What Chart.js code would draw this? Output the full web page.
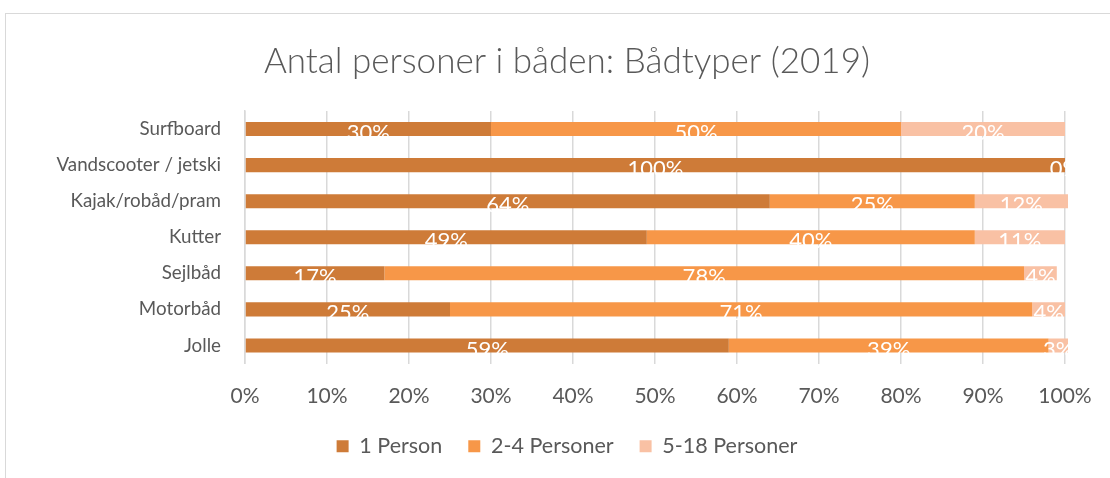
<!DOCTYPE html>
<html>
<head>
<meta charset="utf-8">
<script src="https://cdn.jsdelivr.net/npm/chart.js@4.4.0/dist/chart.umd.min.js"></script>
<style>
  body { margin: 0; background: #fff; }
  #wrap { position: relative; width: 1110px; height: 478px; overflow: hidden; }
  #ramme { position: absolute; left: 5px; top: 13px; width: 1200px; height: 600px; border: 1px solid #d9d9d9; }
  #bieuDo { position: absolute; left: 0; top: 0; }
</style>
</head>
<body>
<div id="wrap">
  <div id="ramme"></div>
  <canvas id="bieuDo" width="1110" height="478"></canvas>
</div>
<script>
// kategorier (baadtyper), oeverst foerst
const baadtyper = ["Surfboard", "Vandscooter / jetski", "Kajak/robåd/pram", "Kutter", "Sejlbåd", "Motorbåd", "Jolle"];

// andele i procent
const enPerson = [30, 100, 64, 49, 17, 25, 59];
const toFirePersoner = [50, 0, 25, 40, 78, 71, 39];
const femAttenPersoner = [20, 0, 12, 11, 4, 4, 3];

const serieNavne = ["1 Person", "2-4 Personer", "5-18 Personer"];
const akseTicks = [0, 10, 20, 30, 40, 50, 60, 70, 80, 90, 100];

const graa = "#595959";
const fontNavn = "Lato, 'Open Sans', sans-serif";

// tegner procent-tal midt i hver (synlige) bar
const procentLabels = {
    id: "procentLabels",
    afterDatasetsDraw(chart) {
        const ctx = chart.ctx;
        const area = chart.chartArea;
        const hoejreKant = area.right + 3;
        ctx.save();
        ctx.beginPath();
        ctx.rect(area.left, area.top - 20, hoejreKant - area.left, area.bottom - area.top + 40);
        ctx.clip();
        ctx.fillStyle = "#ffffff";
        ctx.font = "22px " + fontNavn;
        ctx.textAlign = "center";
        ctx.textBaseline = "middle";
        chart.data.datasets.forEach((ds, i) => {
            const meta = chart.getDatasetMeta(i);
            meta.data.forEach((bar, j) => {
                const v = ds.data[j];
                // vandscooter: kun "0%" for 2-4 personer, som i originalen
                if (i === 2 && j === 1) return;
                const slut = Math.min(bar.x, hoejreKant);
                const start = Math.min(bar.base, hoejreKant);
                const x = slut === start ? bar.x : (slut + start) / 2;
                ctx.fillText(v + "%", x, bar.y + 4);
            });
        });
        ctx.restore();
    },
};

const ctx = document.getElementById("bieuDo").getContext("2d");

new Chart(ctx, {
    type: "bar",
    data: {
        labels: baadtyper,
        datasets: [
            { label: serieNavne[0], data: enPerson, backgroundColor: "#CE7B38" },
            { label: serieNavne[1], data: toFirePersoner, backgroundColor: "#F79748" },
            { label: serieNavne[2], data: femAttenPersoner, backgroundColor: "#F9C1A4" },
        ],
    },
    options: {
        indexAxis: "y",
        responsive: false,
        animation: false,
        datasets: {
            bar: {
                barPercentage: 0.78,
                categoryPercentage: 0.5,
                clip: { left: 0, right: 3, top: 5, bottom: 5 },
            },
        },
        layout: {
            padding: { left: 24, right: 0, top: 0, bottom: 11 },
        },
        scales: {
            x: {
                stacked: true,
                min: 0,
                max: 100,
                afterBuildTicks: (scale) => {
                    scale.ticks = akseTicks.map((v) => ({ value: v }));
                },
                afterFit: (scale) => {
                    scale.height = 46;
                    scale.paddingRight = 45;
                },
                grid: { color: "#d9d9d9", lineWidth: 1.5, drawTicks: false },
                border: { display: false },
                ticks: {
                    padding: 20,
                    color: graa,
                    font: { family: fontNavn, size: 21 },
                    callback: (v) => v + "%",
                },
            },
            y: {
                stacked: true,
                afterFit: (scale) => {
                    scale.width = 221;
                },
                grid: { display: false, drawTicks: false },
                border: { display: true, color: "#d9d9d9", width: 1.5 },
                ticks: {
                    padding: 24,
                    color: graa,
                    font: { family: fontNavn, size: 18.8 },
                },
            },
        },
        plugins: {
            title: {
                display: true,
                text: "Antal personer i båden: Bådtyper (2019)",
                color: graa,
                font: { family: fontNavn, size: 35, weight: 300, lineHeight: 1.2 },
                padding: { top: 41, bottom: 28 },
            },
            legend: {
                position: "bottom",
                labels: {
                    color: graa,
                    font: { family: fontNavn, size: 21.5 },
                    boxWidth: 12,
                    boxHeight: 12,
                    padding: 26,
                },
            },
            tooltip: { enabled: false },
        },
    },
    plugins: [procentLabels],
});
</script>
</body>
</html>
